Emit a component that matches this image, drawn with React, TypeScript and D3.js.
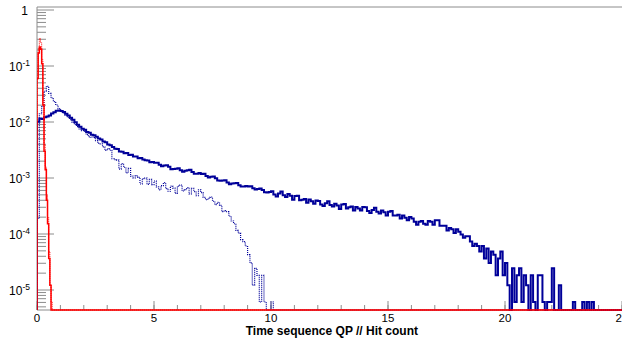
import React from "react";
import * as d3 from "d3";

// ---- data (counts per bin; value = count * NORM) ----
const NORM = 6.1e-6;
const BIN_W = 0.1;
const RED_BIN_W = 0.05;
const X_MAX = 25;

const blueSolidCounts = [
  1650, 1900, 1850, 2000, 2060, 2150, 2320, 2450, 2610, 2640,
  2590, 2470, 2310, 2140, 1960, 1790, 1630, 1470, 1350, 1240,
  1195, 1090, 1052, 975, 948, 893, 828, 801, 735, 712,
  652, 631, 586, 548, 538, 489, 481, 452, 458, 421,
  425, 398, 396, 371, 373, 349, 340, 338, 314, 318,
  307, 308, 282, 266, 273, 278, 260, 236, 237, 241,
  244, 226, 213, 221, 226, 229, 209, 196, 196, 201,
  194, 195, 178, 168, 172, 175, 163, 148, 146, 148,
  149, 136, 127, 131, 132, 134, 122, 115, 116, 118,
  115, 117, 108, 102, 104, 107, 100, 91, 90, 92,
  95, 83, 77, 87, 94, 81, 75, 85, 79, 67,
  78, 79, 66, 67, 69, 59, 68, 63, 57, 65,
  64, 55, 52, 58, 63, 54, 51, 57, 53, 46,
  55, 56, 47, 49, 51, 43, 50, 47, 43, 50,
  49, 42, 39, 44, 48, 41, 38, 43, 40, 35,
  41, 42, 35, 35, 36, 31, 35, 32, 29, 33,
  31, 27, 24, 27, 28, 25, 24, 28, 27, 24,
  29, 29, 23, 23, 23, 19, 21, 20, 17, 20,
  18, 16, 14, 15, 15, 12, 10, 11, 10, 8,
  10, 6, 9, 5, 8, 7, 3, 6, 8, 3,
  5, 2, 0, 4, 1, 3, 4, 1, 3, 2,
  0, 3, 1, 0, 3, 3, 1, 0, 1, 1,
  4, 0, 0, 2, 0, 0, 0, 0, 0, 1,
  0, 0, 0, 1, 0, 1, 0, 1, 0, 0,
];

const blueDottedCounts = [
  31, 2300, 3100, 5800, 7100, 5300, 4400, 3800, 3300, 2850,
  2600, 2380, 2150, 1980, 1800, 1620, 1480, 1350, 1230, 1150,
  1110, 975, 890, 880, 860, 760, 680, 665, 590, 510,
  549, 513, 362, 349, 341, 237, 296, 255, 203, 243,
  177, 165, 181, 168, 128, 160, 163, 126, 155, 125,
  145, 114, 101, 120, 135, 106, 95, 117, 108, 87,
  117, 123, 96, 102, 111, 85, 107, 94, 79, 101,
  90, 74, 67, 71, 75, 63, 55, 60, 53, 41,
  43, 41, 34, 28, 25, 19, 17, 13, 12, 10,
  7, 5, 2, 4, 3, 1, 3, 1, 0, 0,
  1, 0,
];

const redSolidCounts = [9800, 27900, 35800, 32800, 18000, 3300, 490, 230, 66, 25, 6, 2];
const redDottedCounts = [13000, 33000, 50800, 42600, 21300, 4100, 650, 260, 82, 33, 8, 2, 1];

const xTickLabels = ["0", "5", "10", "15", "20", "25"];
const yDecades = [0, -1, -2, -3, -4, -5];
const xTitle = "Time sequence QP // Hit count";

// ---- layout ----
const W = 622;
const H = 343;
const L = 37;
const R = 622;
const T = 7;
const B = 310;
const AXIS = "#8c8c8c";
const FONT = "'Liberation Sans', Arial, Helvetica, sans-serif";

const x = d3.scaleLinear().domain([0, X_MAX]).range([L, R]);
const yMinLog = -5 - 20 / 56;
const yMaxLog = 3 / 56;
const y = d3.scaleLog().domain([Math.pow(10, yMinLog), Math.pow(10, yMaxLog)]).range([B, T]);

function histPath(counts: number[], bw: number): string {
  const pts: [number, number][] = [[x(0), B]];
  counts.forEach((c, i) => {
    const yy = c > 0 ? Math.min(B, y(c * NORM)) : B;
    pts.push([x(i * bw), yy]);
  });
  const lastY = pts[pts.length - 1][1];
  pts.push([x(counts.length * bw), lastY]);
  pts.push([x(counts.length * bw), B]);
  pts.push([x(X_MAX), B]);
  return d3.line().curve(d3.curveStepAfter)(pts) || "";
}

export default function App() {
  const yMajor = yDecades.map((k) => Math.pow(10, k));
  const yMinor: number[] = [];
  for (let k = -6; k <= 0; k++) {
    for (let m = 2; m <= 9; m++) {
      const v = m * Math.pow(10, k);
      const lv = Math.log10(v);
      if (lv >= yMinLog && lv <= yMaxLog) yMinor.push(v);
    }
  }
  const xMinor = d3.range(0, X_MAX + 1, 1);
  const xMajor = xTickLabels.map((t) => +t);

  return (
    <svg
      width={W}
      height={H}
      style={{ position: "absolute", left: 0, top: 0, background: "#fff" }}
      fontFamily={FONT}
    >
      <defs>
        <clipPath id="frame">
          <rect x={L} y={T - 1} width={R - L + 10} height={B - T + 2} />
        </clipPath>
      </defs>
      <rect x={0} y={0} width={W} height={H} fill="#fff" />
      {/* frame */}
      <line x1={L} x2={W} y1={T} y2={T} stroke={AXIS} strokeWidth={1} />
      <line x1={L} x2={L} y1={T} y2={B} stroke={AXIS} strokeWidth={1} />
      <line x1={L} x2={W} y1={B} y2={B} stroke={AXIS} strokeWidth={1} />
      {/* y ticks */}
      {yMinor.map((v, i) => (
        <line key={"ym" + i} x1={L} x2={L + 9} y1={y(v)} y2={y(v)} stroke={AXIS} strokeWidth={1} />
      ))}
      {yMajor.map((v, i) => (
        <line key={"yM" + i} x1={L} x2={L + 17} y1={y(v)} y2={y(v)} stroke={AXIS} strokeWidth={1} />
      ))}
      {/* x ticks */}
      {xMinor.map((v, i) => (
        <line key={"xm" + i} x1={x(v)} x2={x(v)} y1={B} y2={B - 5} stroke={AXIS} strokeWidth={1} />
      ))}
      {xMajor.map((v, i) => (
        <line key={"xM" + i} x1={x(v)} x2={x(v)} y1={B} y2={B - 9} stroke={AXIS} strokeWidth={1} />
      ))}
      {/* histograms */}
      <g clipPath="url(#frame)" fill="none">
        <path d={histPath(blueSolidCounts, BIN_W)} stroke="#000099" strokeWidth={2} />
        <path d={histPath(blueDottedCounts, BIN_W)} stroke="#000099" strokeWidth={1.2} strokeDasharray="1,1" />
        <path d={histPath(redDottedCounts, RED_BIN_W)} stroke="#ff0000" strokeWidth={1} strokeDasharray="1,1" />
        <path d={histPath(redSolidCounts, RED_BIN_W)} stroke="#ff0000" strokeWidth={1.5} />
      </g>
      {/* y labels */}
      {yDecades.map((k, i) => {
        const yy = y(Math.pow(10, k)) + 5;
        if (k === 0) {
          return (
            <text key={"yl" + i} x={28} y={yy} fontSize={12} textAnchor="end" fill="#000">
              1
            </text>
          );
        }
        return (
          <text key={"yl" + i} x={30} y={yy} fontSize={12} textAnchor="end" fill="#000">
            <tspan>10</tspan>
            <tspan fontSize={8.5} dy={-5}>{String(k)}</tspan>
          </text>
        );
      })}
      {/* x labels */}
      {xTickLabels.map((t, i) => (
        <text key={"xl" + i} x={x(+t)} y={322} fontSize={11.5} textAnchor="middle" fill="#000">
          {t}
        </text>
      ))}
      <text x={418} y={335} fontSize={12} fontWeight="bold" textAnchor="end" fill="#000">
        {xTitle}
      </text>
    </svg>
  );
}
